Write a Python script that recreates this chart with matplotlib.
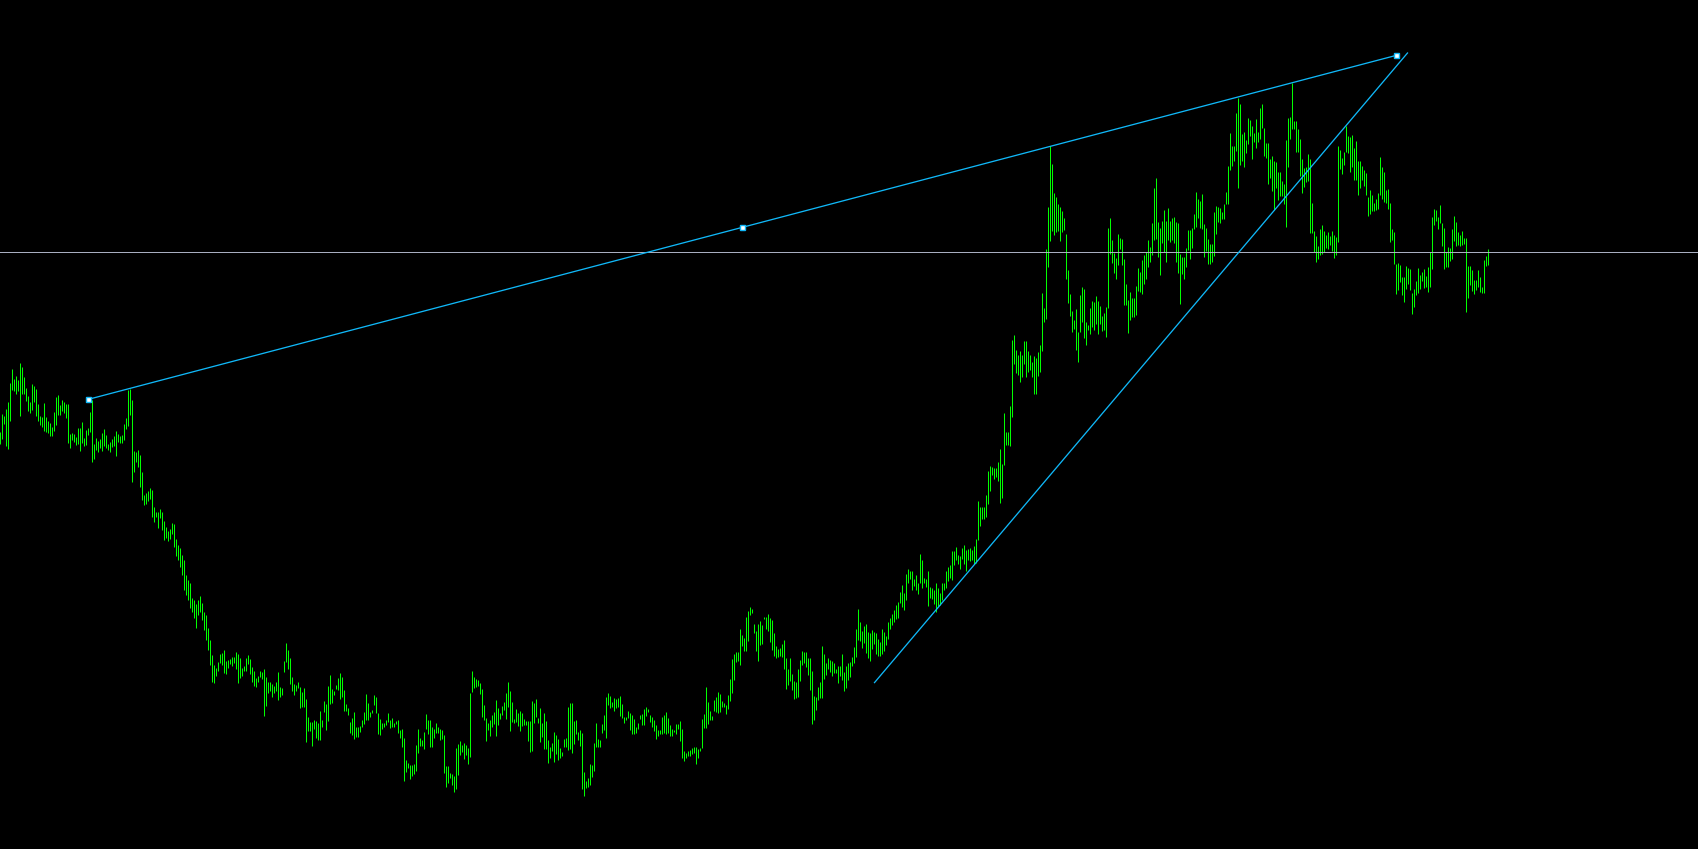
import numpy as np
import matplotlib
matplotlib.use("Agg")
import matplotlib.pyplot as plt
from matplotlib.collections import LineCollection

# Each bar: (high, low) expressed in chart units (screen-like: smaller value = higher price)
seg_1 = [(432,444),(414,439),(416,424),(409,446),(402,449),(383,421),(369,390),(379,391),(376,394),(380,391),
         (363,416),(367,394),(377,394),(388,401),(396,411),(402,413),(384,410),(386,402),(389,416),(404,421),
         (416,425),(417,427),(403,431),(417,432),(421,433),(423,436),(427,436),(412,431),(397,425),(395,415),
         (405,415),(400,411),(402,413),(404,418),(404,443),(434,448),(433,440),(434,442),(437,445),(428,444),
         (428,451),(422,443),(438,446),(430,445),(428,435),(412,432),(400,462),(444,459),(438,450),(441,452),
         (439,448),(433,451),(429,446),(435,448),(444,450),(442,452),(439,447),(436,446),(431,456),(434,442),
         (436,443),(435,443),(424,440),(418,429),(390,426),(389,415),(400,482),(451,472),(452,462),(450,467),
         (455,487),(472,500),(495,505),(493,504),(491,501),(488,499),(490,517),(507,522),(512,517),(512,528),
         (509,518),(512,530),(521,540),(527,538),(531,541),(529,539),(523,534),(524,547),(539,556)]
seg_2 = [(545,560),(548,567),(555,575),(560,590),(575,595),(580,600),(583,608),(598,612),(600,618),(604,628),
         (600,615),(596,612),(603,620),(612,630),(615,640),(628,650),(640,665),(655,682),(665,683)]
seg_3 = [(668,676),(662,671),(654,663),(653,665),(650,673),(661,674),(660,668),(659,664),(657,666),(657,663),
         (652,669),(654,683),(658,678),(668,676),(666,671),(658,671),(655,664),(659,674),(667,682),(671,686),
         (678,687),(676,682),(671,677),(672,679),(669,716),(677,706),(682,693),(682,691),(684,697),(686,693),
         (682,691),(672,700),(687,697),(688,695),(661,672),(643,662),(650,669),(658,684),(677,691),(684,695),
         (685,691),(682,688),(687,708),(692,707),(688,707),(699,742),(717,731),(722,731),(722,746),(720,729),
         (721,738),(723,740),(711,740),(720,727),(701,712),(704,730),(686,721),(675,704),(689,703),(691,695),
         (685,689),(678,690),(673,699),(677,697),(690,711),(704,711),(708,715),(722,733),(718,735),(712,739),
         (727,737),(727,737),(726,732),(720,727),(712,724),(694,720),(703,720),(712,717),(710,713),(695,705),
         (697,713),(713,734),(719,735),(723,729),(723,727),(720,725),(713,722),(720,728),(718,727),(723,727),
         (721,724),(720,733),(730,738),(729,747),(738,781),(760,772),(763,768),(765,779),(765,776),(764,774),
         (745,771),(729,753),(738,746),(740,746),(732,749),(714,729),(720,734)]
seg_4 = [(720,747),(727,747),(729,738),(723,733),(727,733),(729,740),(730,739),(735,773),(766,787),(766,783),
         (773,778),(774,785),(776,792),(748,789),(744,775),(741,755),(745,752),(743,759),(745,755),(748,764),
         (693,757),(671,692),(677,688),(679,687),(680,686),(683,694),(689,717),(705,720),(718,741),(723,730),
         (720,736),(715,727),(712,724),(700,736),(708,725),(713,719),(706,715),(702,710),(693,719),(682,707),
         (691,731),(702,722),(719,723),(709,722),(713,726),(711,731),(713,726),(719,725),(721,725),(721,741),
         (721,752),(701,751),(703,723),(699,717),(718,723),(708,742),(723,737),(713,749),(721,749),(740,763),
         (747,758),(743,751),(732,762),(735,754),(739,760),(748,758),(752,756),(739,747),(738,747),(707,750),
         (703,749),(703,753),(721,744),(720,734),(732,740),(730,746),(733,789),(772,796),(781,788),(778,787),
         (764,785),(765,777),(743,771),(723,747),(739,747),(740,747),(724,733),(715,730),(697,738),(693,705),
         (696,708),(702,707),(698,711),(699,708),(698,707),(696,716),(704,718),(717,723),(717,720),(711,718),
         (713,730),(715,734),(719,734),(727,733),(723,729),(715,719),(714,725),(709,725)]
seg_5 = [(707,716),(709,712),(715,722),(717,727),(720,731),(725,739),(730,736),(730,734),(717,734),(715,733),
         (712,734),(718,733),(725,736),(729,736),(730,732),(724,734),(724,729),(721,741),(729,758),(751,761),
         (753,758),(751,756),(750,756),(748,754),(747,753),(747,764),(749,758),(748,751),(719,748),(714,728),
         (687,728),(702,724),(711,720),(716,720),(700,711),(697,712),(692,713),(694,712),(701,707),(703,707),
         (705,714),(695,709),(679,701),(659,693),(654,680),(652,662),(652,661),(629,665),(635,646),(638,651),
         (617,651),(611,641),(607,615),(609,613),(624,633),(631,651),(624,661),(621,645),(625,644),(617,619),
         (617,629),(614,631),(618,642),(620,650),(633,656),(646,658),(649,657),(648,656),(644,657),(640,669),
         (658,689),(669,685),(658,681),(674,690),(681,699),(682,698),(669,697),(660,681),(651,665),(652,663),
         (652,667),(658,675),(658,690),(671,724),(696,720),(697,710),(687,700),(682,698),(646,698),(654,679),
         (663,675),(658,669),(660,672),(661,676),(663,673),(669,673),(666,683),(666,676),(654,680),(672,691),
         (666,688),(663,680),(662,677),(657,666),(647,663),(629,657),(609,640)]
seg_6 = [(622,641),(631,648),(626,643),(624,653),(632,658),(633,661),(630,649),(632,644),(633,654),(639,656),
         (642,656),(629,654),(632,651),(636,645),(622,639),(618,629),(614,625),(610,622),(605,619),(602,618),
         (592,603),(585,607),(593,610),(574,600),(569,583),(571,579),(571,590),(579,586),(575,590),(583,594),
         (554,583),(560,588),(578,583),(579,587),(571,606),(587,598),(588,599),(590,604),(583,612),(588,606),
         (593,605),(583,600),(583,590),(571,588),(567,581),(565,578),(551,580),(551,565),(547,560),(555,564),
         (556,569),(548,559),(545,564),(550,571),(549,560),(548,561),(550,560),(546,564),(539,563),(501,540),
         (507,526),(507,519),(507,519),(495,517),(471,504),(466,491),(467,475),(468,479),(468,477),(462,481),
         (449,503),(464,498),(413,465),(432,445),(432,445),(406,446),(340,417),(335,364),(350,373),(355,375),
         (351,382),(355,377),(341,364),(341,377),(351,372),(355,370),(362,377),(356,394),(358,394),(352,376),
         (345,372),(293,351),(308,322),(249,319),(207,267),(146,241),(164,231),(193,235),(197,232),(204,231),
         (207,241),(211,232),(218,230),(234,279),(270,303),(294,316),(311,332),(320,329)]
seg_7 = [(309,350),(332,362),(295,332),(287,322),(289,338),(322,345),(325,330),(308,334),(301,327),(302,330),
         (296,324),(301,334),(306,324),(316,331),(313,330),(307,337),(228,308),(218,254),(240,263),(253,273),
         (258,279),(234,265),(238,249),(239,265),(259,305),(284,305),(300,333),(292,320),(298,317),(298,317),
         (286,315),(268,291),(272,292),(260,294),(255,284),(252,279),(240,267),(247,262),(223,255),(188,240),
         (178,239),(222,257),(228,275),(221,243),(210,252),(221,262),(208,240),(221,242),(218,240),(217,243),
         (222,262),(223,273),(254,304),(257,274),(257,279),(248,267),(230,250),(230,259),(228,248),(214,229),
         (192,227),(199,218),(201,228),(194,229),(224,257),(228,251),(239,264),(244,264),(244,262),(212,256),
         (206,234),(207,222),(208,223),(212,219),(204,219),(192,204),(166,204),(133,170),(146,166),(146,161),
         (113,151),(98,188),(104,165),(134,161),(132,167),(140,153),(118,144),(120,136),(126,159),(133,142),
         (119,148),(132,142),(108,139),(104,128),(128,156),(143,158),(143,184),(159,178),(156,191),(161,210),
         (162,188),(172,200),(172,196),(181,196),(184,204),(140,227),(118,167)]
seg_8 = [(117,139),(83,129),(121,129),(121,152),(129,152),(139,176),(159,193),(168,187),(167,182),(154,181),
         (159,233),(203,233),(231,252),(236,262),(246,259),(229,255),(225,254),(231,252),(235,248),(232,249),
         (236,245),(231,251),(235,258),(237,255),(146,242),(150,169),(158,174),(152,165),(126,152),(136,153),
         (137,172),(135,167),(148,180),(141,180),(161,195),(161,188),(166,180),(170,186),(173,195),(197,216),
         (190,214),(195,211),(203,211),(199,210),(193,209),(157,195),(167,199),(172,202),(190,203),(189,209),
         (203,242),(229,240),(232,264),(264,294),(263,290),(265,282),(277,295),(277,302),(266,289),(268,284),
         (269,290),(293,314),(289,307),(281,295),(268,293),(275,289),(272,281),(269,288),(276,287),(267,292),
         (252,287),(217,269),(209,225),(210,221),(217,229),(205,223),(223,246),(228,269),(252,267),(247,267),
         (248,261),(229,259),(216,241),(222,246),(232,245),(235,246),(231,245),(238,244),(238,312),(266,298),
         (266,285),(270,291),(280,294),(280,290),(270,287),(277,292),(287,293),(260,293),(256,266),(249,265)]

# Chart objects (bar index, level)
upper_trend_bars = [44, 698]
upper_trend_levels = [399.3, 55.3]
upper_mid_bar = 371
upper_mid_level = 227.3
lower_trend_bars = [437, 703.5]
lower_trend_levels = [682.6, 53.0]
hline_level = 251.5

bars = seg_1 + seg_2 + seg_3 + seg_4 + seg_5 + seg_6 + seg_7 + seg_8
highs = np.array([b[0] for b in bars], dtype=float)
lows = np.array([b[1] for b in bars], dtype=float)
idx = np.arange(len(bars))

W, H, DPI = 1699, 849, 100
fig = plt.figure(figsize=(W / DPI, H / DPI), dpi=DPI, facecolor="black")
ax = fig.add_axes([0, 0, 1, 1])
ax.set_facecolor("black")
ax.set_xlim(-0.25, W / 2 - 0.25)
ax.set_ylim(H, 0)
ax.axis("off")

px = 72.0 / DPI
segs = [[(i, hi), (i, lo)] for i, hi, lo in zip(idx, highs, lows)]
lc = LineCollection(segs, colors="#00FF00", linewidths=px, antialiaseds=True)
ax.add_collection(lc)

line_col = "#10B8F8"
ax.axhline(hline_level, color="#A8AEC0", lw=px, antialiased=True)
ax.plot(upper_trend_bars, upper_trend_levels, color=line_col, lw=1.3 * px, antialiased=True)
ax.plot(lower_trend_bars, lower_trend_levels, color=line_col, lw=1.3 * px, antialiased=True)
mk_x = [upper_trend_bars[0], upper_mid_bar, upper_trend_bars[1]]
mk_y = [upper_trend_levels[0], upper_mid_level, upper_trend_levels[1]]
ax.plot(mk_x, mk_y, ls="none", marker="s", ms=3.6, mfc="white", mec=line_col, mew=1.0)

fig.savefig("out.png", dpi=DPI, facecolor="black")
